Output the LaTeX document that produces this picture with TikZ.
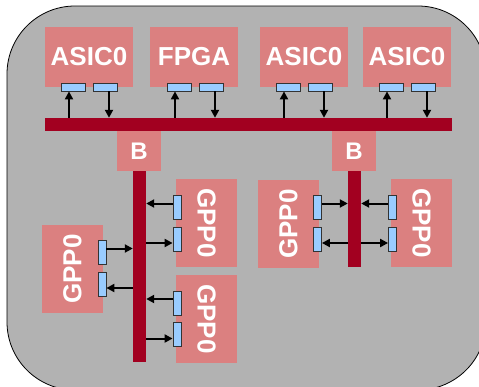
\documentclass[tikz,border=0pt]{standalone}
\usepackage{fontspec}
\setmainfont{Liberation Sans}
\usetikzlibrary{arrows.meta}
\definecolor{boxred}{RGB}{219,128,128}
\definecolor{busred}{RGB}{162,0,32}
\definecolor{bggray}{RGB}{178,178,178}
\definecolor{portblue}{RGB}{153,204,255}
\tikzset{
  unitbox/.style={fill=boxred, draw=none, text=white, inner sep=0pt,
    font=\bfseries\fontsize{26}{26}\selectfont, minimum width=88pt, minimum height=60pt},
  bbox/.style={fill=boxred, draw=none, text=white, inner sep=0pt,
    font=\bfseries\fontsize{24}{24}\selectfont, minimum width=44pt, minimum height=40pt},
  gppbox/.style={unitbox, minimum width=88pt, minimum height=61pt},
  bar/.style={fill=busred, draw=none, inner sep=0pt},
  hport/.style={fill=portblue, draw=black!80, line width=0.8pt, inner sep=0pt, minimum width=24pt, minimum height=8pt},
  vport/.style={fill=portblue, draw=black!80, line width=0.8pt, inner sep=0pt, minimum width=8pt, minimum height=24pt},
  arr/.style={draw=black, line width=2pt, -{Triangle[length=8pt,width=8pt]}}
}
\begin{document}
\begin{tikzpicture}[x=1pt,y=-1pt]
\useasboundingbox (0,0) rectangle (479,386);
\clip (0,0) rectangle (479,386);
\draw[fill=bggray, draw=black, line width=0.8pt, rounded corners=68pt] (7,6) rectangle (486,390);

% top units
\node[unitbox] (asic1) at (89,57) {ASIC0};
\node[unitbox] (fpga) at (194,57) {FPGA};
\node[unitbox] (asic3) at (304,57) {ASIC0};
\node[unitbox] (asic4) at (407,57) {ASIC0};

% horizontal bus and bridges
\node[bar, minimum width=407pt, minimum height=13pt] (busH) at (248.5,124.5) {};
\node[bbox] (b1) at (139,151) {B};
\node[bbox] (b2) at (354,151) {B};
\node[bar, minimum width=13pt, minimum height=191pt] (v1) at (139.5,266.5) {};
\node[bar, minimum width=13pt, minimum height=96pt] (v2) at (354.5,219) {};

% GPPs
\node[gppbox, rotate=90] (gL) at (72.5,269) {GPP0};
\node[gppbox, rotate=-90] (gA) at (206.5,223) {GPP0};
\node[gppbox, rotate=-90] (gB) at (206.5,319) {GPP0};
\node[gppbox, rotate=90] (gC) at (288.5,224) {GPP0};
\node[gppbox, rotate=-90] (gD) at (421.5,223) {GPP0};

% horizontal ports
\node[hport] (p1a) at (73,87) {};
\node[hport] (p1b) at (105,87) {};
\node[hport] (p2a) at (179,87) {};
\node[hport] (p2b) at (211,87) {};
\node[hport] (p3a) at (288,87) {};
\node[hport] (p3b) at (320,87) {};
\node[hport] (p4a) at (391,87) {};
\node[hport] (p4b) at (423,87) {};

% vertical ports
\node[vport] (pL1) at (102,252.5) {};
\node[vport] (pL2) at (102,284) {};
\node[vport] (pA1) at (177,207.5) {};
\node[vport] (pA2) at (177,239) {};
\node[vport] (pB1) at (177,303) {};
\node[vport] (pB2) at (177,334.5) {};
\node[vport] (pC1) at (317.5,207.5) {};
\node[vport] (pC2) at (317.5,239) {};
\node[vport] (pD1) at (392.5,207.5) {};
\node[vport] (pD2) at (392.5,239) {};

% arrows top
\foreach \p in {p1a,p2a,p3a,p4a}{
  \draw[arr] ([xshift=-4pt]\p.south |- busH.north) -- ([xshift=-4pt]\p.south);
}
\foreach \p in {p1b,p2b,p3b,p4b}{
  \draw[arr] ([xshift=4pt]\p.south) -- ([xshift=4pt]\p.south |- busH.north);
}

% arrows left bus
\draw[arr] ([yshift=4pt]pL1.east) -- ([yshift=4pt]pL1.east -| v1.west);
\draw[arr] ([yshift=-4pt]pL2.east -| v1.west) -- ([yshift=-4pt]pL2.east);
\draw[arr] ([yshift=4pt]pA1.west) -- ([yshift=4pt]pA1.west -| v1.east);
\draw[arr] ([yshift=-4pt]pA2.west -| v1.east) -- ([yshift=-4pt]pA2.west);
\draw[arr] ([yshift=4pt]pB1.west) -- ([yshift=4pt]pB1.west -| v1.east);
\draw[arr] ([yshift=-4pt]pB2.west -| v1.east) -- ([yshift=-4pt]pB2.west);

% arrows right bus
\draw[arr] ([yshift=4pt]pC1.east) -- ([yshift=4pt]pC1.east -| v2.west);
\draw[arr] ([yshift=-4pt]pC2.east -| v2.west) -- ([yshift=-4pt]pC2.east);
\draw[arr] ([yshift=4pt]pD1.west) -- ([yshift=4pt]pD1.west -| v2.east);
\draw[arr] ([yshift=-4pt]pD2.west -| v2.east) -- ([yshift=-4pt]pD2.west);
\end{tikzpicture}
\end{document}
